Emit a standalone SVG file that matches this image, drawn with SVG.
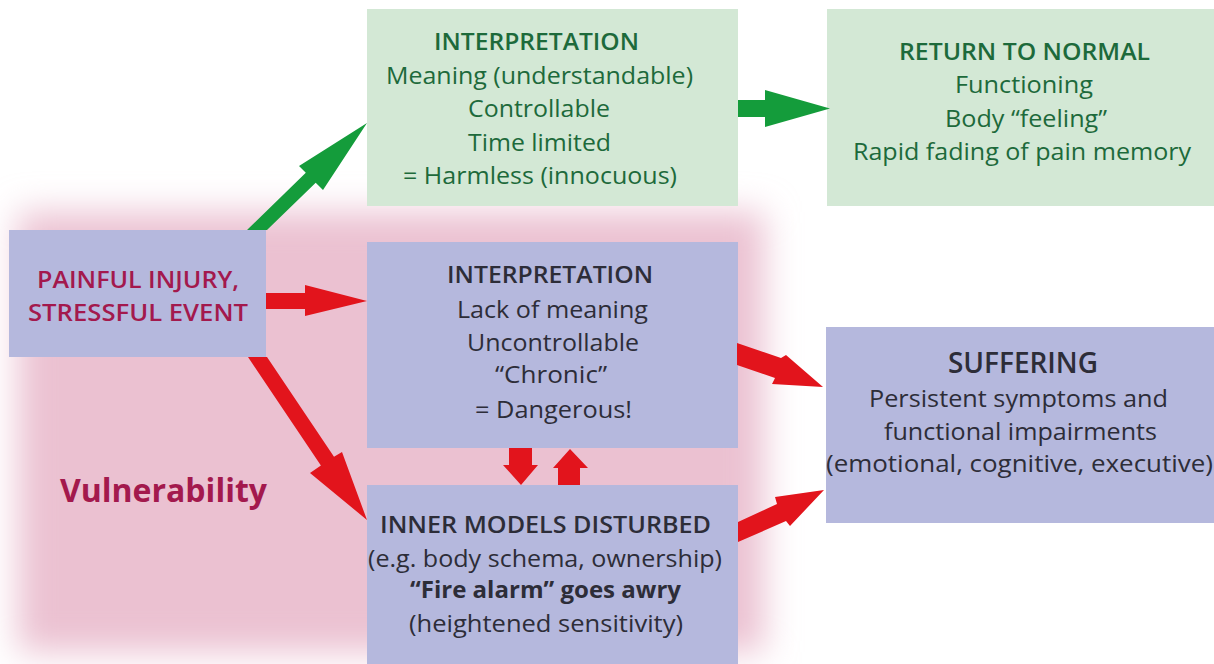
<svg xmlns="http://www.w3.org/2000/svg" width="1214" height="664" viewBox="0 0 1214 664">
<style>
text{font-family:"Open Sans","Noto Sans","Liberation Sans",sans-serif;font-size:24px}
.g{fill:#1d6a3b}
.d{fill:#2d2d38}
.c{fill:#a3194d}
.b{font-weight:700}
.sb{font-weight:600}
.gbox{fill:#d3e8d5}
.pbox{fill:#b5b8dd}
.red{fill:#e2141c}
.grn{fill:#149c3b}
</style>
<defs>
<filter id="blur" x="-15%" y="-15%" width="130%" height="130%">
<feGaussianBlur stdDeviation="17"/>
</filter>
</defs>
<rect width="1214" height="664" fill="#ffffff"/>
<g id="vulnerability-area">
<rect x="18" y="212" width="746" height="440" fill="#ebc1d1" filter="url(#blur)"/>
<text x="60" y="502" class="c b" style="font-size:32px" textLength="207" lengthAdjust="spacingAndGlyphs">Vulnerability</text>
</g>
<g id="interpretation-harmless">
<rect class="gbox" x="367" y="9" width="371" height="197"/>
<text x="434" y="50" class="g sb" textLength="205" lengthAdjust="spacingAndGlyphs">INTERPRETATION</text>
<text x="386" y="83.5" class="g" textLength="307" lengthAdjust="spacingAndGlyphs">Meaning (understandable)</text>
<text x="468" y="117" class="g" textLength="142" lengthAdjust="spacingAndGlyphs">Controllable</text>
<text x="468" y="150.5" class="g" textLength="143" lengthAdjust="spacingAndGlyphs">Time limited</text>
<text x="403" y="184" class="g" textLength="274" lengthAdjust="spacingAndGlyphs">= Harmless (innocuous)</text>
</g>
<g id="return-to-normal">
<rect class="gbox" x="827" y="9" width="387" height="197"/>
<text x="899" y="60" class="g sb" textLength="251" lengthAdjust="spacingAndGlyphs">RETURN TO NORMAL</text>
<text x="955" y="93" class="g" textLength="138" lengthAdjust="spacingAndGlyphs">Functioning</text>
<text x="945" y="127" class="g" textLength="162" lengthAdjust="spacingAndGlyphs">Body “feeling”</text>
<text x="853" y="160" class="g" textLength="338" lengthAdjust="spacingAndGlyphs">Rapid fading of pain memory</text>
</g>
<g id="painful-injury">
<rect class="pbox" x="9" y="230" width="257" height="127"/>
<text x="37" y="288" class="c sb" textLength="202" lengthAdjust="spacingAndGlyphs">PAINFUL INJURY,</text>
<text x="28" y="321" class="c sb" textLength="220" lengthAdjust="spacingAndGlyphs">STRESSFUL EVENT</text>
</g>
<g id="interpretation-dangerous">
<rect class="pbox" x="367" y="242" width="371" height="206"/>
<text x="447" y="283" class="d sb" textLength="206" lengthAdjust="spacingAndGlyphs">INTERPRETATION</text>
<text x="457" y="318" class="d" textLength="191" lengthAdjust="spacingAndGlyphs">Lack of meaning</text>
<text x="467" y="351" class="d" textLength="172" lengthAdjust="spacingAndGlyphs">Uncontrollable</text>
<text x="495" y="383" class="d" textLength="112" lengthAdjust="spacingAndGlyphs">“Chronic”</text>
<text x="475" y="418" class="d" textLength="157" lengthAdjust="spacingAndGlyphs">= Dangerous!</text>
</g>
<g id="inner-models">
<rect class="pbox" x="367" y="485" width="371" height="179"/>
<text x="380" y="533" class="d sb" textLength="331" lengthAdjust="spacingAndGlyphs">INNER MODELS DISTURBED</text>
<text x="368" y="567" class="d" textLength="354" lengthAdjust="spacingAndGlyphs">(e.g. body schema, ownership)</text>
<text x="410" y="598" class="d b" textLength="271" lengthAdjust="spacingAndGlyphs">“Fire alarm” goes awry</text>
<text x="409" y="632" class="d" textLength="274" lengthAdjust="spacingAndGlyphs">(heightened sensitivity)</text>
</g>
<g id="suffering">
<rect class="pbox" x="826" y="327" width="388" height="196"/>
<text x="948" y="373" class="d sb" style="font-size:28px" textLength="150" lengthAdjust="spacingAndGlyphs">SUFFERING</text>
<text x="869" y="407" class="d" textLength="299" lengthAdjust="spacingAndGlyphs">Persistent symptoms and</text>
<text x="884" y="440" class="d" textLength="273" lengthAdjust="spacingAndGlyphs">functional impairments</text>
<text x="826" y="472" class="d" textLength="387" lengthAdjust="spacingAndGlyphs">(emotional, cognitive, executive)</text>
</g>
<g id="connectors">
<polygon class="grn" points="247,230 305.8,172.8 299,166 367,123 323,190 315.7,182.7 267,230"/>
<polygon class="grn" points="738,100 765,100 765,90 830,108.5 765,127 765,117 738,117"/>
<polygon class="red" points="266,293 305,293 305,285 367,301 305,316 305,309 266,309"/>
<polygon class="red" points="248,357 320.9,465.6 310,473 367,520 342,452 334,456.8 267,357"/>
<polygon class="red" points="737,343 781,358 786,355 823,387 772,384 775,378 737,365"/>
<polygon class="red" points="738,522 777,504 775,497 824,490 790,526 786,521 738,542"/>
<polygon class="red" points="509,448 532,448 532,465 538,465 521,485 503,465 509,465"/>
<polygon class="red" points="558,485 558,468 553,468 570,449 588,468 580,468 580,485"/>
</g>
</svg>
